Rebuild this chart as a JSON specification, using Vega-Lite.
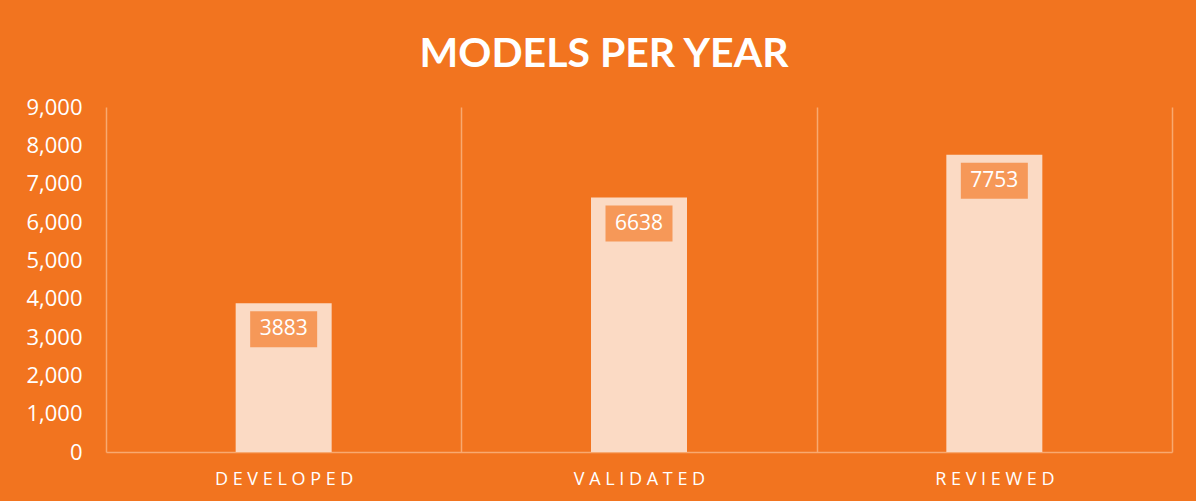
{
  "$schema": "https://vega.github.io/schema/vega-lite/v6.json",
  "autosize": {"type": "none"},
  "width": 1066,
  "height": 345,
  "padding": {"left": 106, "top": 107, "right": 24, "bottom": 49},
  "background": "#F2741F",
  "config": {
    "view": {"stroke": null},
    "font": "Open Sans"
  },
  "title": {
    "text": "MODELS PER YEAR",
    "font": "Lato",
    "fontSize": 41,
    "fontWeight": "bold",
    "color": "#FFFFFF",
    "anchor": "middle",
    "baseline": "alphabetic",
    "offset": 40,
    "dy": 52,
    "dx": -35
  },
  "data": {
    "values": [
      {"stage": "DEVELOPED", "models": 3883},
      {"stage": "VALIDATED", "models": 6638},
      {"stage": "REVIEWED", "models": 7753}
    ]
  },
  "encoding": {
    "x": {
      "field": "stage",
      "type": "nominal",
      "sort": null,
      "scale": {"paddingInner": 0, "paddingOuter": 0},
      "axis": {
        "title": null,
        "labelAngle": 0,
        "labelColor": "#FFFFFF",
        "labelFont": "Open Sans",
        "labelFontSize": 18,
        "labelPadding": 18,
        "labelExpr": "join(split(datum.label, ''), ' ')",
        "ticks": false,
        "domain": true,
        "domainColor": "#F8A970",
        "domainWidth": 1.5,
        "grid": true,
        "gridColor": "#F8A970",
        "gridWidth": 1.5,
        "tickBand": "extent"
      }
    },
    "y": {
      "field": "models",
      "type": "quantitative",
      "scale": {"domain": [0, 9000], "nice": false},
      "axis": {
        "title": null,
        "values": [0, 1000, 2000, 3000, 4000, 5000, 6000, 7000, 8000, 9000],
        "format": ",d",
        "labelColor": "#FFFFFF",
        "labelFont": "Open Sans",
        "labelFontSize": 22,
        "labelPadding": 24,
        "ticks": false,
        "domain": false,
        "grid": false
      }
    }
  },
  "layer": [
    {
      "mark": {"type": "bar", "size": 96, "fill": "#FBDAC4"}
    },
    {
      "mark": {
        "type": "bar",
        "size": 67,
        "fill": "#F2741F",
        "opacity": 0.65,
        "yOffset": 8,
        "y2Offset": 44
      },
      "encoding": {
        "y2": {"field": "models"}
      }
    },
    {
      "mark": {
        "type": "text",
        "color": "#FFFFFF",
        "fontSize": 21,
        "font": "Open Sans",
        "baseline": "middle",
        "align": "center",
        "dy": 26
      },
      "encoding": {
        "text": {"field": "models", "type": "quantitative", "format": "d"}
      }
    }
  ]
}
